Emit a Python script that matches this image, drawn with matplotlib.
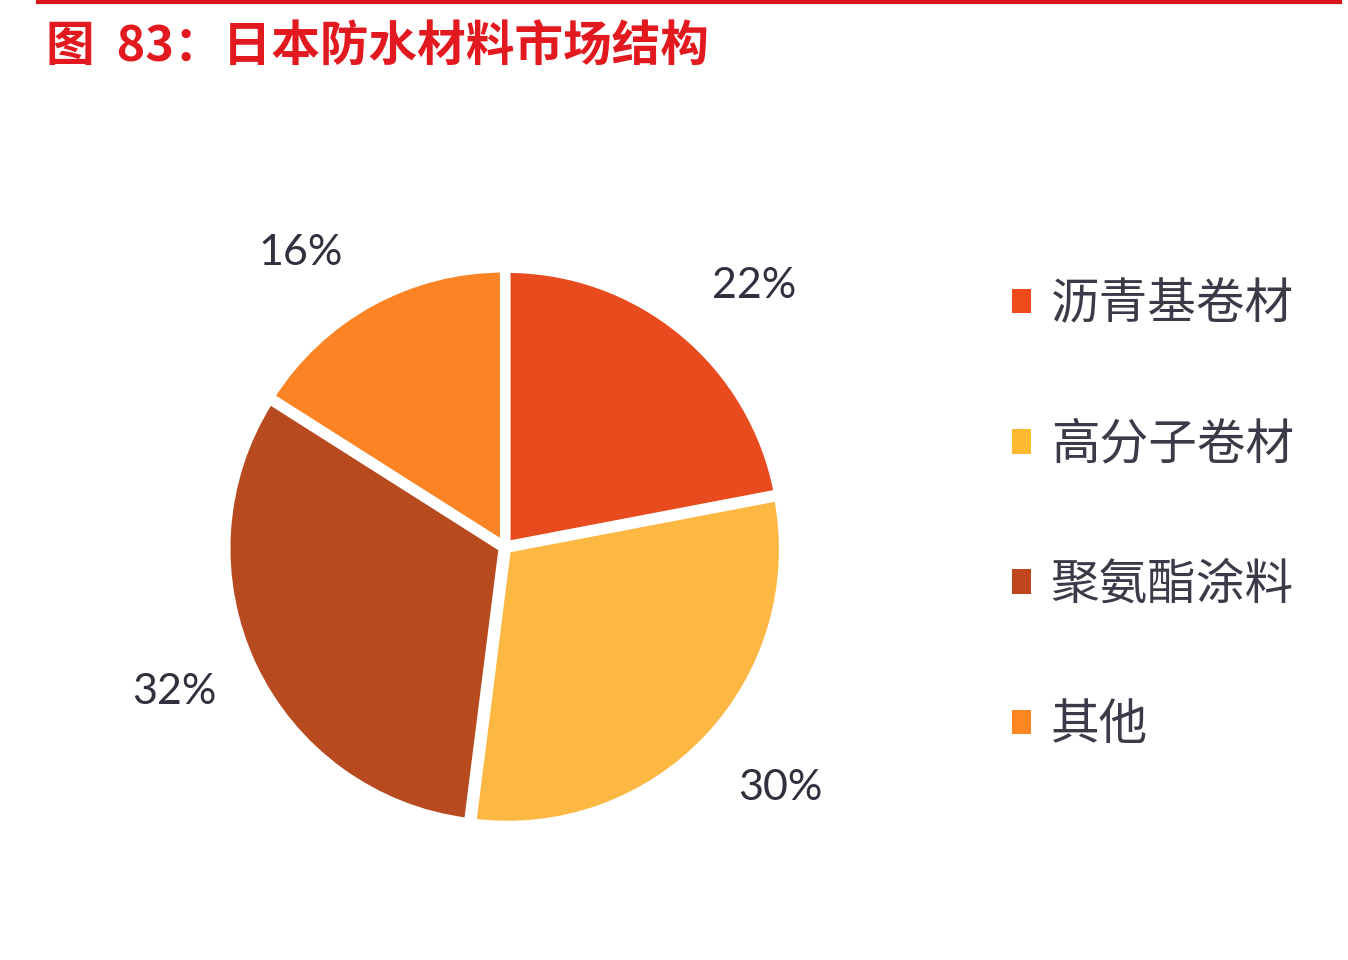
import numpy as np
import matplotlib
matplotlib.use("Agg")
import matplotlib.pyplot as plt
from matplotlib.patches import Patch
from matplotlib.lines import Line2D

plt.rcParams['font.family'] = ['Noto Sans CJK SC', 'DejaVu Sans']

title = "图  83：日本防水材料市场结构"
categories = ["沥青基卷材", "高分子卷材", "聚氨酯涂料", "其他"]
values = [22, 30, 32, 16]
colors = ["#E84B1E", "#FDB844", "#B84A20", "#FC8424"]
legend_colors = ["#EE4A1A", "#FDBA30", "#C0461E", "#FD8622"]
# small angular nudges (degrees) for the percentage labels
label_nudge = [-4, 2, -1.5, 6]
label_dist = [1.30, 1.32, 1.30, 1.29]

fig = plt.figure(figsize=(13.48, 9.6), dpi=100)
fig.patch.set_facecolor("white")

# top red rule
fig.add_artist(Line2D([38/1348, 1340/1348], [958.5/960, 958.5/960],
                      transform=fig.transFigure, color="#D9161C", lw=3))

fig.text(46/1348, 1 - 46/960, title, color="#E21A1F", fontsize=35,
         fontweight="bold", ha="left", va="center")

ax = fig.add_axes([230/1348, (960-822)/960, 550/1348, 550/960])
wedges, texts, autotexts = ax.pie(
    values, colors=colors, startangle=90, counterclock=False,
    explode=[0.012]*4, radius=1.0,
    autopct=lambda p: f"{p:.0f}%", pctdistance=1.28,
    wedgeprops=dict(edgecolor="white", linewidth=5),
    textprops=dict(fontsize=31, color="#30303E", family=["Lato", "DejaVu Sans"]))
for w, t, dn, r in zip(wedges, autotexts, label_nudge, label_dist):
    ang = np.deg2rad((w.theta1 + w.theta2) / 2 + dn)
    cx, cy = w.center
    t.set_position((cx + r*np.cos(ang), cy + r*np.sin(ang)))
ax.set_xlim(-1, 1)
ax.set_ylim(-1, 1)
ax.set_aspect("equal")

handles = [Patch(facecolor=c, edgecolor="none") for c in legend_colors]
leg = fig.legend(handles, categories, loc="upper left",
                 bbox_to_anchor=(968/1348, 1 - 236/960), frameon=False,
                 fontsize=35, labelspacing=1.87, handlelength=0.4,
                 handleheight=0.4, handletextpad=0.4, labelcolor="#3A3A48")

fig.savefig("out.png", dpi=100, facecolor="white")
